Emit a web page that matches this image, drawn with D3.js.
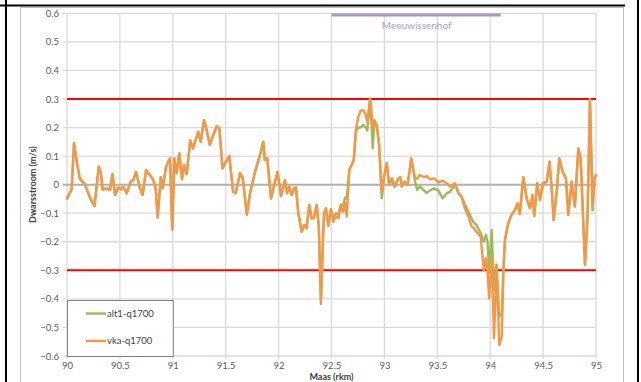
<!DOCTYPE html>
<html>
<head>
<meta charset="utf-8">
<script src="https://cdn.jsdelivr.net/npm/d3@7"></script>
<style>
  html, body { margin: 0; padding: 0; background: #fff; }
  svg { display: block; }
  text { font-family: Lato, "Open Sans", "Liberation Sans", sans-serif; }
</style>
</head>
<body>
<svg id="chart" width="641" height="382"></svg>
<script>
// River kilometre along the Maas (x) for every sample
const rkm = [
  90.00, 90.044, 90.066, 90.09, 90.12, 90.17, 90.22, 90.26, 90.30, 90.32,
  90.337, 90.375, 90.406, 90.43, 90.454, 90.485, 90.51, 90.53, 90.564, 90.60,
  90.627, 90.652, 90.69, 90.715, 90.747, 90.784, 90.816, 90.838, 90.857, 90.886,
  90.905, 90.936, 90.964, 90.974, 90.995, 91.014, 91.037, 91.061, 91.087, 91.106,
  91.131, 91.165, 91.19, 91.21, 91.24, 91.264, 91.295, 91.32, 91.35, 91.383,
  91.415, 91.44, 91.47, 91.50, 91.534, 91.57, 91.594, 91.635, 91.66, 91.70,
  91.73, 91.777, 91.824, 91.855, 91.87, 91.893, 91.928, 91.966, 91.99, 92.023,
  92.06, 92.08, 92.10, 92.124, 92.146, 92.164, 92.186, 92.218, 92.243, 92.265,
  92.29, 92.313, 92.335, 92.36, 92.38, 92.40, 92.42, 92.43, 92.448, 92.47,
  92.495, 92.517, 92.54, 92.565, 92.587, 92.61, 92.628, 92.644, 92.668, 92.69,
  92.71, 92.73, 92.753, 92.776, 92.80, 92.823, 92.838, 92.864, 92.88, 92.89,
  92.905, 92.927, 92.95, 92.975, 92.997, 93.022, 93.045, 93.07, 93.096, 93.127,
  93.15, 93.165, 93.19, 93.22, 93.254, 93.29, 93.31, 93.336, 93.374, 93.40,
  93.43, 93.47, 93.51, 93.55, 93.59, 93.62, 93.667, 93.70, 93.73, 93.76,
  93.79, 93.825, 93.84, 93.87, 93.91, 93.94, 93.96, 93.975, 93.99, 94.014,
  94.036, 94.06, 94.086, 94.11, 94.124, 94.14, 94.17, 94.20, 94.235, 94.26,
  94.28, 94.313, 94.345, 94.376, 94.40, 94.416, 94.445, 94.47, 94.50, 94.534,
  94.56, 94.58, 94.60, 94.63, 94.653, 94.685, 94.716, 94.738, 94.77, 94.80,
  94.833, 94.855, 94.896, 94.92, 94.943, 94.968, 94.985, 95.00
];

// Cross-flow velocity (m/s), reference situation vka-q1700
const vka = [
  -0.048, -0.017, 0.145, 0.086, 0.022, 0.000, -0.048, -0.075, 0.063, 0.040,
  -0.017, -0.013, -0.019, 0.037, -0.036, -0.010, -0.017, -0.007, -0.030, 0.010,
  0.016, 0.045, -0.013, -0.036, 0.051, 0.034, 0.016, -0.013, -0.115, 0.026,
  -0.013, 0.063, 0.086, 0.092, -0.157, 0.092, 0.040, 0.110, 0.019, 0.069,
  0.037, 0.155, 0.127, 0.150, 0.185, 0.150, 0.226, 0.191, 0.139, 0.174,
  0.205, 0.197, 0.057, 0.080, 0.100, -0.025, -0.030, 0.040, 0.026, -0.106,
  -0.030, 0.045, 0.104, 0.150, 0.086, 0.092, -0.048, 0.010, 0.045, -0.040,
  0.016, -0.030, -0.007, -0.036, -0.013, -0.010, -0.100, -0.165, -0.141, -0.153,
  -0.071, -0.118, -0.112, -0.071, -0.147, -0.405, -0.180, -0.100, -0.083, -0.145,
  -0.086, -0.130, -0.110, -0.118, -0.077, -0.095, -0.063, -0.112, 0.051, 0.069,
  0.086, 0.191, 0.238, 0.259, 0.261, 0.244, 0.220, 0.302, 0.250, 0.191,
  0.226, 0.209, 0.139, -0.030, 0.028, 0.075, -0.001, 0.022, -0.007, 0.019,
  0.026, -0.007, 0.010, -0.001, 0.092, 0.022, 0.020, 0.034, 0.026, 0.030,
  0.019, 0.022, 0.007, 0.014, 0.005, -0.007, 0.005, -0.030, -0.042, -0.083,
  -0.106, -0.147, -0.150, -0.165, -0.182, -0.300, -0.258, -0.305, -0.398, -0.252,
  -0.538, -0.281, -0.562, -0.533, -0.310, -0.194, -0.136, -0.106, -0.089, -0.066,
  -0.103, 0.026, -0.048, -0.083, -0.036, -0.110, 0.005, -0.054, 0.005, 0.010,
  0.080, -0.007, -0.124, -0.019, 0.092, 0.045, 0.022, -0.106, 0.010, -0.077,
  0.127, 0.092, -0.281, -0.112, 0.299, -0.089, 0.022, 0.034
];

// Cross-flow velocity (m/s), alternative alt1-q1700
const alt1 = [
  -0.048, -0.017, 0.145, 0.086, 0.022, 0.000, -0.048, -0.075, 0.063, 0.040,
  -0.017, -0.013, -0.019, 0.037, -0.036, -0.010, -0.017, -0.007, -0.030, 0.010,
  0.016, 0.045, -0.013, -0.036, 0.051, 0.034, 0.016, -0.013, -0.115, 0.026,
  -0.013, 0.063, 0.086, 0.092, -0.157, 0.092, 0.040, 0.110, 0.019, 0.069,
  0.037, 0.155, 0.127, 0.150, 0.185, 0.150, 0.226, 0.191, 0.139, 0.174,
  0.205, 0.197, 0.057, 0.080, 0.100, -0.025, -0.030, 0.040, 0.026, -0.106,
  -0.030, 0.045, 0.104, 0.150, 0.086, 0.092, -0.048, 0.010, 0.045, -0.040,
  0.016, -0.030, -0.007, -0.036, -0.013, -0.010, -0.100, -0.165, -0.141, -0.153,
  -0.071, -0.118, -0.118, -0.071, -0.147, -0.418, -0.180, -0.100, -0.083, -0.140,
  -0.086, -0.120, -0.100, -0.105, -0.070, -0.075, -0.045, -0.050, 0.051, 0.069,
  0.086, 0.185, 0.200, 0.200, 0.210, 0.200, 0.190, 0.295, 0.200, 0.127,
  0.220, 0.209, 0.139, -0.048, 0.028, 0.075, -0.001, 0.022, -0.007, 0.019,
  0.026, -0.007, 0.010, -0.001, 0.092, 0.010, -0.019, -0.007, -0.020, -0.030,
  -0.020, -0.013, -0.020, -0.048, -0.030, -0.025, 0.000, -0.030, -0.042, -0.070,
  -0.090, -0.120, -0.130, -0.141, -0.170, -0.200, -0.176, -0.200, -0.310, -0.159,
  -0.369, -0.280, -0.462, -0.450, -0.300, -0.190, -0.136, -0.106, -0.089, -0.066,
  -0.103, 0.026, -0.048, -0.083, -0.036, -0.110, 0.005, -0.054, 0.005, 0.010,
  0.080, -0.007, -0.124, -0.019, 0.092, 0.045, 0.022, -0.106, 0.010, -0.077,
  0.127, 0.092, -0.281, -0.112, 0.299, -0.089, 0.022, 0.034
];

const xTicks = [90, 90.5, 91, 91.5, 92, 92.5, 93, 93.5, 94, 94.5, 95];
const yTicks = [-0.6, -0.5, -0.4, -0.3, -0.2, -0.1, 0, 0.1, 0.2, 0.3, 0.4, 0.5, 0.6];
const limitValues = [0.3, -0.3];
const reachName = "Meeuwissenhof";
const reachRange = [92.5, 94.1];
const seriesNames = ["alt1-q1700", "vka-q1700"];
const seriesColors = ["#9bbb59", "#f79646"];
const axisTitles = { x: "Maas (rkm)", y: "Dwarsstroom (m/s)" };

const svg = d3.select("#chart");

// Page frame around the chart
svg.append("line").attr("x1", 0).attr("x2", 625).attr("y1", 5.5).attr("y2", 5.5)
  .attr("stroke", "#000").attr("stroke-width", 2);
svg.append("line").attr("x1", 6).attr("x2", 6).attr("y1", 0).attr("y2", 382)
  .attr("stroke", "#000").attr("stroke-width", 2);
svg.append("line").attr("x1", 638).attr("x2", 638).attr("y1", 0).attr("y2", 382)
  .attr("stroke", "#000").attr("stroke-width", 2);
// Chart area border
svg.append("rect").attr("x", 20.5).attr("y", 7.5).attr("width", 603).attr("height", 380)
  .attr("fill", "#fff").attr("stroke", "#bfbfbf").attr("stroke-width", 1);

const x = d3.scaleLinear().domain([90, 95]).range([67, 596]);
const y = d3.scaleLinear().domain([-0.6, 0.6]).range([356, 13.3]);

// Gridlines
const grid = svg.append("g");
grid.selectAll("line.v").data(xTicks).join("line")
  .attr("x1", d => x(d)).attr("x2", d => x(d))
  .attr("y1", y(0.6)).attr("y2", y(-0.6) + 3)
  .attr("stroke", "#d9d9d9").attr("stroke-width", 1.3);
grid.selectAll("line.h").data(yTicks).join("line")
  .attr("x1", x(90) - 4).attr("x2", x(95))
  .attr("y1", d => y(d)).attr("y2", d => y(d))
  .attr("stroke", d => d === 0 ? "#b0b0b0" : "#d9d9d9")
  .attr("stroke-width", d => d === 0 ? 2 : 1.3);

// Axis tick labels
const xAxis = svg.append("g").attr("transform", `translate(0,${y(-0.6)})`)
  .call(d3.axisBottom(x).tickValues(xTicks).tickSize(0).tickPadding(6)
    .tickFormat(d => String(d)));
xAxis.select(".domain").remove();
xAxis.selectAll("text").attr("fill", "#595959").style("font-size", "9.5px");

const yAxis = svg.append("g").attr("transform", `translate(${x(90)},0)`)
  .call(d3.axisLeft(y).tickValues(yTicks).tickSize(0).tickPadding(8)
    .tickFormat(d => d === 0 ? "0" : d3.format(".1f")(d)));
yAxis.select(".domain").remove();
yAxis.selectAll("text").attr("fill", "#595959").style("font-size", "9.5px");

// Axis titles
svg.append("text").attr("x", (x(90) + x(95)) / 2).attr("y", 379.5)
  .attr("text-anchor", "middle").attr("font-weight", "bold")
  .attr("fill", "#404040").style("font-size", "9px").text(axisTitles.x);
svg.append("text")
  .attr("transform", `translate(36,${y(0)}) rotate(-90)`)
  .attr("text-anchor", "middle").attr("font-weight", "bold")
  .attr("fill", "#404040").style("font-size", "9px").text(axisTitles.y);

// ±0.3 m/s limits
svg.selectAll("line.limit").data(limitValues).join("line")
  .attr("x1", x(90)).attr("x2", x(95))
  .attr("y1", d => y(d)).attr("y2", d => y(d))
  .attr("stroke", "#ff0000").attr("stroke-width", 2);

// Meeuwissenhof reach marker
svg.append("line")
  .attr("x1", x(reachRange[0])).attr("x2", x(reachRange[1]))
  .attr("y1", 15).attr("y2", 15)
  .attr("stroke", "#a597cc").attr("stroke-width", 3);
svg.append("text").attr("x", (x(reachRange[0]) + x(reachRange[1])) / 2 + 0.5).attr("y", 29)
  .attr("text-anchor", "middle").attr("fill", "#a99bd0")
  .style("font-size", "10px").text(reachName);

// Series lines (alternative underneath, reference on top)
const line = d3.line().x(d => x(d[0])).y(d => y(d[1]));
[alt1, vka].forEach((vals, i) => {
  svg.append("path")
    .datum(rkm.map((r, j) => [r, vals[j]]))
    .attr("d", line)
    .attr("fill", "none")
    .attr("stroke", seriesColors[i])
    .attr("stroke-width", 2.4)
    .attr("stroke-linejoin", "round")
    .attr("stroke-linecap", "round");
});

// Legend
const legend = svg.append("g");
legend.append("rect").attr("x", x(90) + 0.5).attr("y", 300.5)
  .attr("width", x(91) - x(90)).attr("height", y(-0.6) - 300)
  .attr("fill", "#fff").attr("stroke", "#7f7f7f").attr("stroke-width", 1);
seriesNames.forEach((name, i) => {
  const ly = 313.5 + i * 27.5;
  legend.append("line").attr("x1", 86).attr("x2", 106).attr("y1", ly).attr("y2", ly)
    .attr("stroke", seriesColors[i]).attr("stroke-width", 2.4);
  legend.append("text").attr("x", 107).attr("y", ly + 3.3)
    .attr("fill", "#404040").style("font-size", "9.5px").text(name);
});
</script>
</body>
</html>
